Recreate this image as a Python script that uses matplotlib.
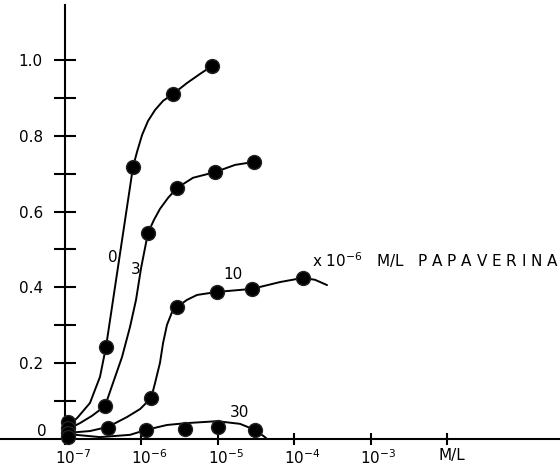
import numpy as np
import matplotlib
matplotlib.use('Agg')
from matplotlib import pyplot as plt
from matplotlib.ticker import FixedLocator, NullFormatter
from matplotlib.transforms import ScaledTranslation

# measured points (concentration M/L, response) for each papaverina level
x0 = [1.1e-7, 3.44e-7, 7.77e-7, 2.59e-6, 8.4e-6]
y0 = [0.045, 0.243, 0.718, 0.910, 0.984]
x3 = [1.1e-7, 3.34e-7, 1.22e-6, 2.92e-6, 9.2e-6, 2.98e-5]
y3 = [0.030, 0.087, 0.544, 0.662, 0.704, 0.731]
x10 = [1.1e-7, 3.66e-7, 1.34e-6, 2.92e-6, 9.8e-6, 2.81e-5, 1.30e-4]
y10 = [0.015, 0.029, 0.108, 0.348, 0.388, 0.396, 0.425]
x30 = [1.1e-7, 1.15e-6, 3.72e-6, 1.01e-5, 3.07e-5]
y30 = [0.005, 0.024, 0.026, 0.032, 0.024]

# hand drawn curves
cx0 = [1.06e-7, 1.48e-7, 2.12e-7, 2.87e-7, 3.44e-7, 7.77e-7, 8.75e-7, 1.02e-6,
       1.22e-6, 1.51e-6, 1.92e-6, 2.59e-6, 3.95e-6, 5.85e-6, 8.4e-6]
cy0 = [0.029, 0.058, 0.095, 0.164, 0.243, 0.718, 0.757, 0.802,
       0.839, 0.868, 0.892, 0.910, 0.939, 0.963, 0.984]
cx3 = [1.06e-7, 1.57e-7, 2.25e-7, 3.34e-7, 4.25e-7, 5.57e-7, 7.10e-7, 8.5e-7, 9.9e-7,
       1.22e-6, 1.46e-6, 1.75e-6, 2.23e-6, 2.92e-6, 4.73e-6, 9.2e-6, 1.68e-5, 2.98e-5]
cy3 = [0.024, 0.042, 0.061, 0.087, 0.148, 0.216, 0.296, 0.367, 0.451,
       0.544, 0.578, 0.607, 0.636, 0.662, 0.689, 0.704, 0.723, 0.731]
cx10 = [1.06e-7, 2.12e-7, 3.66e-7, 6.48e-7, 9.6e-7, 1.34e-6, 1.51e-6, 1.75e-6, 1.92e-6,
        2.16e-6, 2.52e-6, 2.92e-6, 3.95e-6, 5.35e-6, 9.8e-6, 2.81e-5, 6.52e-5,
        1.30e-4, 1.87e-4, 2.69e-4]
cy10 = [0.016, 0.021, 0.032, 0.058, 0.079, 0.108, 0.148, 0.201, 0.253,
        0.301, 0.335, 0.348, 0.367, 0.380, 0.388, 0.396, 0.414,
        0.425, 0.420, 0.406]
cx30 = [1.09e-7, 2.87e-7, 7.10e-7, 1.15e-6, 2.16e-6, 3.95e-6, 9.8e-6, 1.95e-5, 3.07e-5, 4.27e-5]
cy30 = [0.013, 0.005, 0.011, 0.024, 0.037, 0.042, 0.047, 0.040, 0.024, 0.003]

xticks = [1e-7, 1e-6, 1e-5, 1e-4, 1e-3, 1e-2]
xlabels = ['$10^{-7}$', '$10^{-6}$', '$10^{-5}$', '$10^{-4}$', '$10^{-3}$', 'M/L']
yticks = [0.2, 0.4, 0.6, 0.8, 1.0]
ylabels = ['0.2', '0.4', '0.6', '0.8', '1.0']
yminor = [0.1, 0.3, 0.5, 0.7, 0.9]

plt.rcParams['font.family'] = ['DejaVu Sans']
plt.rcParams['mathtext.fontset'] = 'dejavusans'

fig = plt.figure(figsize=(5.6, 4.74), dpi=100)
ax = fig.add_axes([0, 0, 1, 1])
ax.set_xscale('log')
ax.set_xlim(10 ** -7.851, 10 ** -0.521)
ax.set_ylim(-0.0923, 1.158)

for cx, cy in [(cx0, cy0), (cx3, cy3), (cx10, cy10), (cx30, cy30)]:
    ax.plot(cx, cy, color='black', lw=1.4, solid_capstyle='round',
            solid_joinstyle='round', zorder=2)
for x, y in [(x0, y0), (x3, y3), (x10, y10), (x30, y30)]:
    ax.plot(x, y, 'o', color='black', ms=10, mec='#222222', zorder=3)

# axes drawn through the origin like the original
ax.spines['top'].set_visible(False)
ax.spines['right'].set_visible(False)
ax.spines['left'].set_position(('data', 1e-7))
ax.spines['left'].set_bounds(-0.012, 1.145)
ax.spines['bottom'].set_position(('data', 0))
ax.spines['left'].set_linewidth(1.5)
ax.spines['bottom'].set_linewidth(1.5)

ax.xaxis.set_major_locator(FixedLocator(xticks))
ax.xaxis.set_minor_locator(FixedLocator([]))
ax.set_xticklabels(xlabels)
ax.tick_params(axis='x', which='major', direction='inout', length=9, width=1.5,
               pad=2, labelsize=11)
offset = ScaledTranslation(8 / 100, 0, fig.dpi_scale_trans)
for lab in ax.get_xticklabels()[:-1]:
    lab.set_transform(lab.get_transform() + offset)
ax.get_xticklabels()[-1].set_transform(ax.get_xticklabels()[-1].get_transform()
                                       + ScaledTranslation(5 / 100, 0, fig.dpi_scale_trans))

ax.yaxis.set_major_locator(FixedLocator(yticks))
ax.yaxis.set_minor_locator(FixedLocator(yminor))
ax.yaxis.set_minor_formatter(NullFormatter())
ax.set_yticklabels(ylabels)
ax.tick_params(axis='y', which='both', direction='inout', length=16, width=1.5,
               pad=8, labelsize=11)

ax.text(47 / 560, 1 - 432 / 474, '0', transform=ax.transAxes, ha='right',
        va='center', fontsize=11)

ax.text(4.25e-7, 0.48, '0', fontsize=11, ha='center', va='center')
ax.text(8.5e-7, 0.446, '3', fontsize=11, ha='center', va='center')
ax.text(1.58e-5, 0.433, '10', fontsize=11, ha='center', va='center')
ax.text(1.95e-5, 0.071, '30', fontsize=11, ha='center', va='center')
ax.text(1.71e-4, 0.472, 'x $10^{-6}$   M/L   P A P A V E R I N A', fontsize=11,
        ha='left', va='center')

fig.savefig('out.png', dpi=100)
